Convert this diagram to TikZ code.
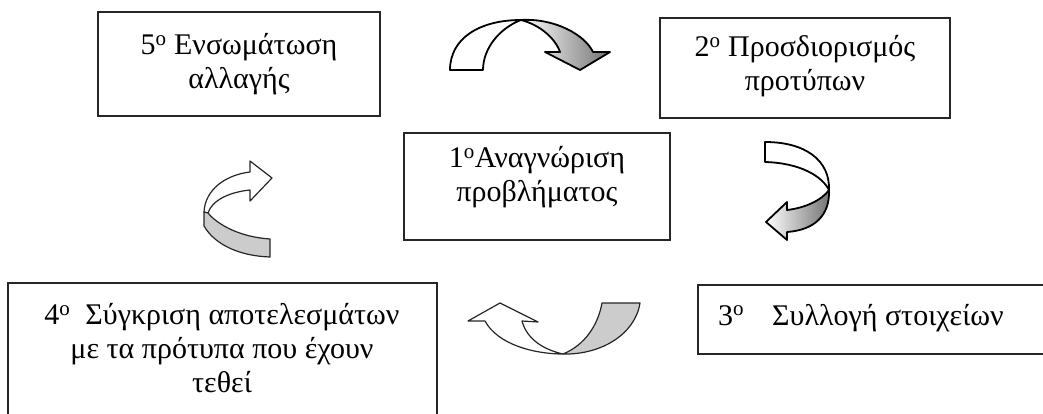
\documentclass[tikz,border=0pt]{standalone}
\usepackage{fontspec}
\setmainfont{Liberation Serif}
\newcommand{\ord}{\textsuperscript{o}}
\begin{document}
\begin{tikzpicture}[x=1pt,y=-1pt,
  boxshape/.style={draw=black!85, line width=1.2pt, fill=white, inner sep=0pt},
  txt/.style={align=center, inner sep=0pt, font=\fontsize{30}{34}\selectfont},
  arrA/.style={draw=black, line width=1.8pt, line join=round},
  arrC/.style={draw=black!85, line width=1.2pt, line join=round},
  ribbon/.style={fill=black!20}
]
\useasboundingbox (0,0) rectangle (1043,414);
\clip (0,0) rectangle (1043,414);

% boxes
\node[boxshape, minimum width=282pt, minimum height=104pt] (b5) at (239,64) {};
\node[txt] (t5) at (239,64.5) {5\ord{} Ενσωμάτωση\\αλλαγής};

\node[boxshape, minimum width=290pt, minimum height=100pt] (b2) at (805,68) {};
\node[txt] (t2) at (805,66.5) {2\ord{} Προσδιορισμός\\προτύπων};

\node[boxshape, minimum width=266pt, minimum height=107pt] (b1) at (537,186.5) {};
\node[txt] (t1) at (537,177) {1\ord Αναγνώριση\\προβλήματος};

\node[boxshape, minimum width=352pt, minimum height=69pt] (b3) at (874,319.5) {};
\node[txt, anchor=base west] (t3) at (718,325) {3\ord\hspace*{28pt}Συλλογή στοιχείων};

\node[boxshape, minimum width=429pt, minimum height=160pt] (b4) at (222.5,363) {};
\node[txt] (t4) at (222,348.5) {4\ord\ \ Σύγκριση αποτελεσμάτων\\με τα πρότυπα που έχουν\\τεθεί};

% arrow A (top)
\draw[arrA, fill=white] (450,70) .. controls (450,38) and (480,20) .. (521,20)
  .. controls (500,28) and (483,48) .. (483,70) -- cycle;
\draw[arrA, left color=white, right color=black!55] (521,20)
  .. controls (555,18) and (585,35) .. (593,52) -- (610,52) -- (580,70) -- (545,52) -- (560,52)
  .. controls (555,38) and (540,25) .. (521,20) -- cycle;

% arrow B (right)
\draw[arrA, fill=white] (765,142) .. controls (805,142) and (830,160) .. (829,190)
  .. controls (822,176) and (800,163) .. (765,162) -- cycle;
\draw[arrA, left color=white, right color=black!55] (829,190)
  .. controls (830,215) and (815,230) .. (787,232) -- (787,240) -- (766,222) -- (787,202) -- (787,210)
  .. controls (805,208) and (822,200) .. (829,190) -- cycle;

% arrow C (left)
\draw[arrC, fill=white] (204,212) .. controls (205,190) and (225,175) .. (250,172)
  -- (250,161) -- (272,178) -- (250,201) -- (250,190)
  .. controls (230,192) and (212,200) .. (208,213) -- cycle;
\draw[arrC, ribbon] (204,212) -- (204,226) .. controls (215,245) and (240,256) .. (270,257)
  -- (270,239) .. controls (240,237) and (218,225) .. (208,213) -- cycle;

% arrow D (bottom)
\draw[arrC, fill=white] (485,321) -- (468,321) -- (500,303) -- (538,322) -- (522,321)
  .. controls (527,340) and (545,350) .. (563,354)
  .. controls (535,354) and (498,345) .. (485,321) -- cycle;
\draw[arrC, ribbon] (563,354) .. controls (585,345) and (598,325) .. (602,303)
  -- (640,303) .. controls (635,335) and (600,355) .. (563,354) -- cycle;
\end{tikzpicture}
\end{document}
